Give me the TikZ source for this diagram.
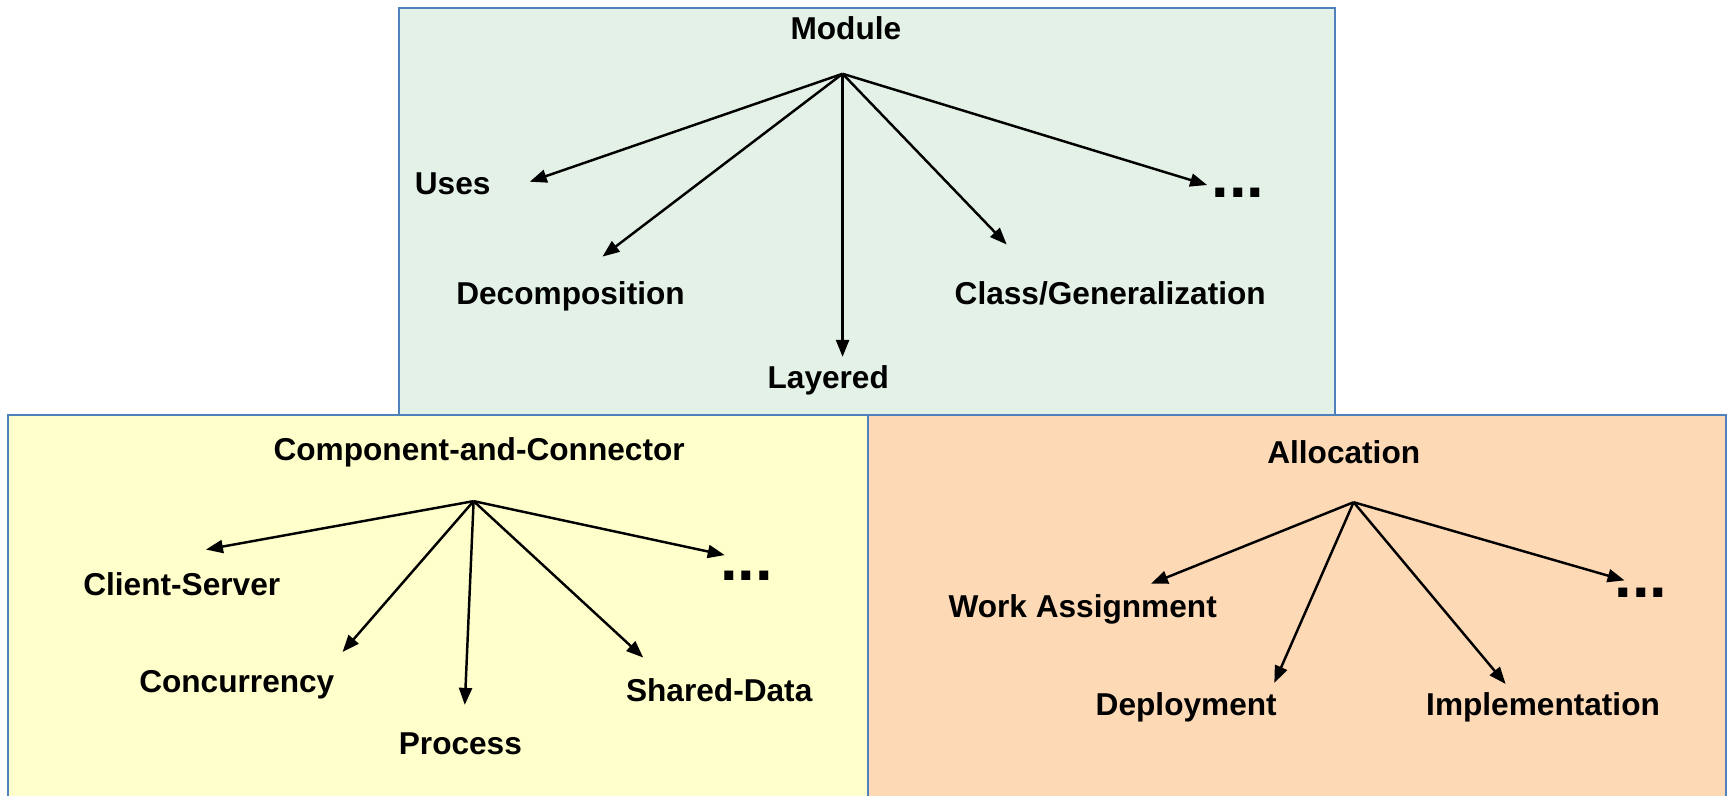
\documentclass[tikz,border=0pt]{standalone}
\usepackage{fontspec}
\setmainfont{Liberation Sans}
\usetikzlibrary{arrows.meta}
\definecolor{modfill}{RGB}{227,241,231}
\definecolor{ccfill}{RGB}{255,255,204}
\definecolor{allocfill}{RGB}{253,217,182}
\definecolor{boxline}{RGB}{79,129,189}
\begin{document}
\begin{tikzpicture}[x=0.011014cm,y=-0.011014cm,
  panel/.style={draw=boxline,line width=0.5pt},
  lbl/.style={font=\fontsize{9}{10}\selectfont\bfseries,inner sep=0pt},
  dots/.style={font=\fontsize{18}{18}\selectfont\bfseries,inner sep=0pt},
  arr/.style={line width=0.7pt,-{Triangle[length=1.7mm,width=1.3mm]}}]
\useasboundingbox (0,0) rectangle (1568,722);
\begin{scope}
\clip (0,0) rectangle (1568,722);
\filldraw[panel,fill=modfill] (362,7) rectangle (1212,377);
\filldraw[panel,fill=ccfill] (7,377) rectangle (788,740);
\filldraw[panel,fill=allocfill] (788,377) rectangle (1567,740);
\end{scope}
% Module
\node[lbl] (mod) at (768,26) {Module};
\coordinate (mh) at (765,67);
\node[lbl] (uses) at (411,167) {Uses};
\node[lbl] (dec) at (518,269) {Decomposition};
\node[lbl] (lay) at (752,345) {Layered};
\node[lbl] (cls) at (1008,266) {Class/Generalization};
\node[dots] (mdots) at (1124,175) {...};
\coordinate (muE) at (481,165);
\coordinate (mdE) at (547,233);
\coordinate (mlE) at (765,324);
\coordinate (mcE) at (914,222);
\coordinate (mxE) at (1096,168);
\foreach \e in {muE,mdE,mlE,mcE,mxE} \draw[arr] (mh) -- (\e);
% Component-and-Connector
\node[lbl] (cc) at (435,411) {Component-and-Connector};
\coordinate (ch) at (430,455);
\node[lbl] (cs) at (165,530) {Client-Server};
\node[lbl] (conc) at (215,622) {Concurrency};
\node[lbl] (proc) at (418,675) {Process};
\node[lbl] (sd) at (653,627) {Shared-Data};
\node[dots] (cdots) at (678,523) {...};
\coordinate (csE) at (187,499);
\coordinate (ccE) at (311,592);
\coordinate (cpE) at (422,640);
\coordinate (cdE) at (584,597);
\coordinate (cxE) at (658,504);
\foreach \e in {csE,ccE,cpE,cdE,cxE} \draw[arr] (ch) -- (\e);
% Allocation
\node[lbl] (al) at (1220,411) {Allocation};
\coordinate (ah) at (1229,456);
\node[lbl] (wa) at (983,553) {Work Assignment};
\node[lbl] (dep) at (1077,642) {Deployment};
\node[lbl] (imp) at (1401,642) {Implementation};
\node[dots] (adots) at (1490,538) {...};
\coordinate (awE) at (1045,530);
\coordinate (adE) at (1157,620);
\coordinate (aiE) at (1367,621);
\coordinate (axE) at (1475,527);
\foreach \e in {awE,adE,aiE,axE} \draw[arr] (ah) -- (\e);
\end{tikzpicture}
\end{document}
